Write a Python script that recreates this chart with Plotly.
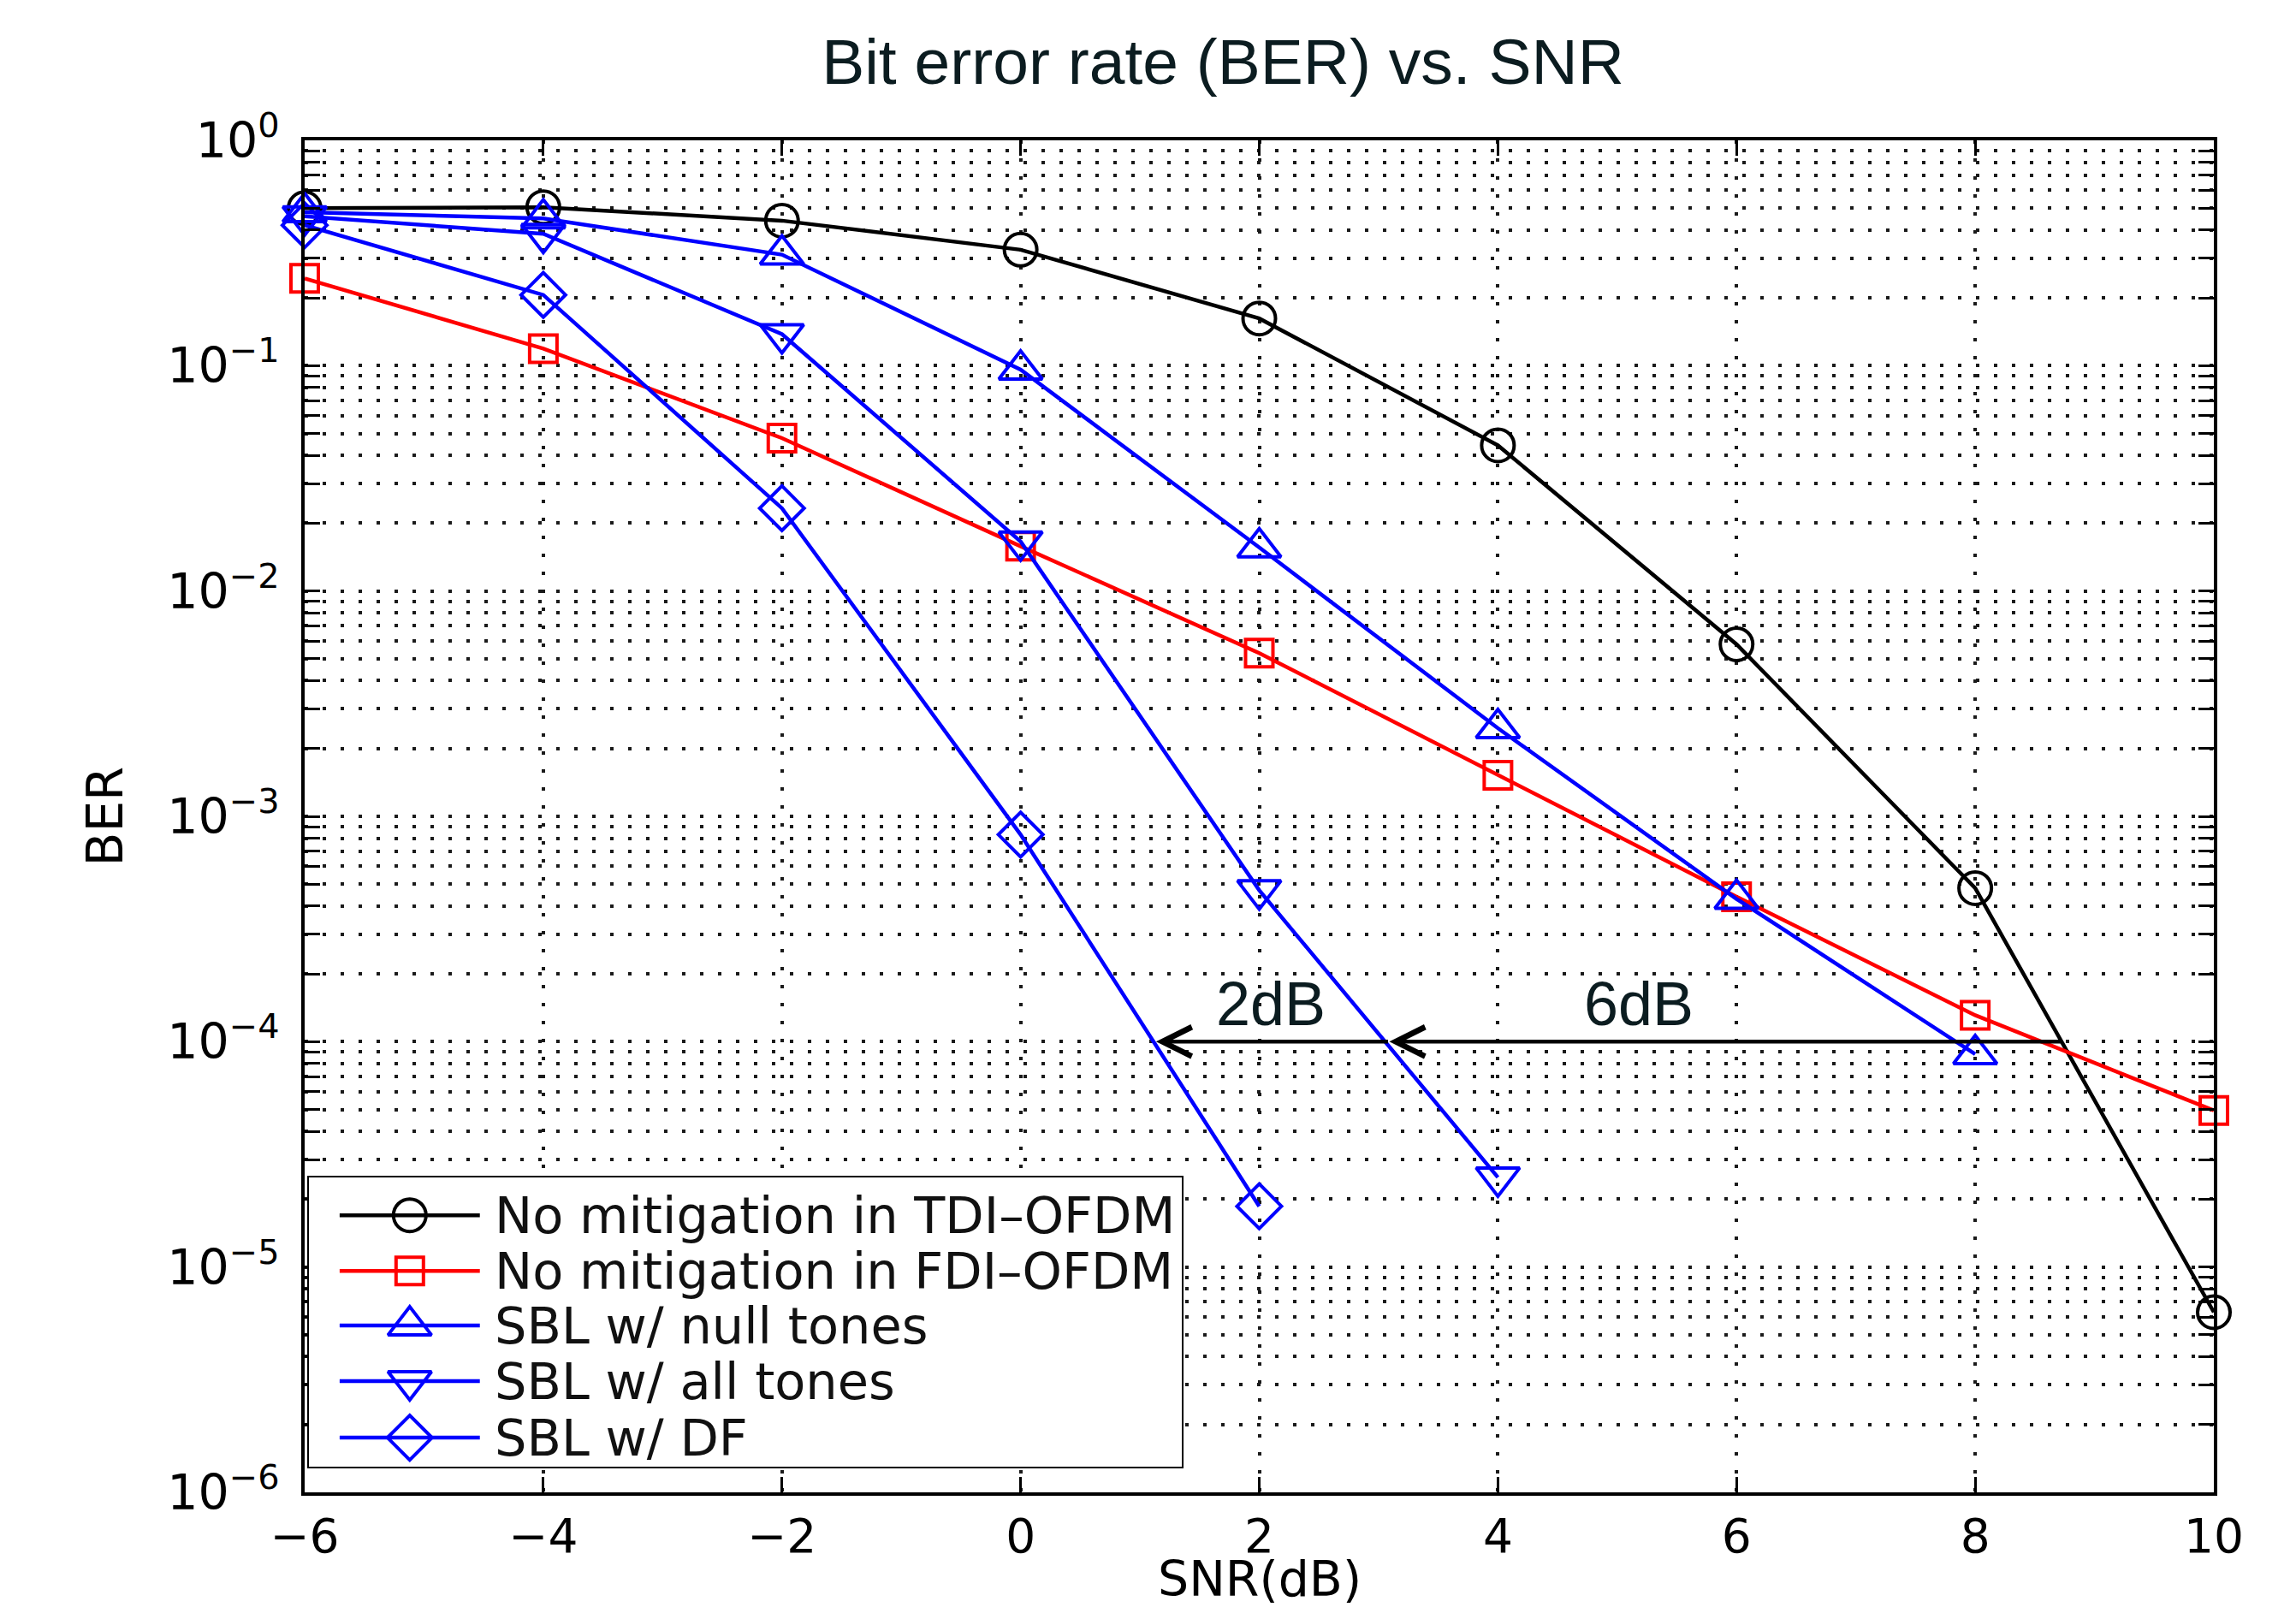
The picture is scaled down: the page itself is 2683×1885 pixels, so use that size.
import math
import plotly.graph_objects as go

# ---------------- data ----------------
snr = [-6, -4, -2, 0, 2, 4, 6, 8, 10]
ber_tdi = [0.50, 0.505, 0.44, 0.327, 0.162, 0.0443, 0.0058, 4.8e-4, 6.3e-6]
ber_fdi = [0.244, 0.119, 0.0477, 0.0158, 0.0053, 0.00152, 4.4e-4, 1.31e-4, 4.95e-5]
snr_null = [-6, -4, -2, 0, 2, 4, 6, 8]
ber_null = [0.48, 0.45, 0.311, 0.096, 0.0156, 0.00246, 4.3e-4, 8.8e-5]
snr_all = [-6, -4, -2, 0, 2, 4]
ber_all = [0.46, 0.385, 0.138, 0.0166, 4.7e-4, 2.5e-5]
snr_df = [-6, -4, -2, 0, 2]
ber_df = [0.42, 0.206, 0.0233, 8.3e-4, 1.86e-5]

series_names = ["No mitigation in TDI\u2013OFDM", "No mitigation in FDI\u2013OFDM",
                "SBL w/ null tones", "SBL w/ all tones", "SBL w/ DF"]

x_tickvals = [-6, -4, -2, 0, 2, 4, 6, 8, 10]
x_ticktext = ["\u22126", "\u22124", "\u22122", "0", "2", "4", "6", "8", "10"]
y_exponents = [-6, -5, -4, -3, -2, -1, 0]
x_title = "SNR(dB)"
y_title = "BER"

# arrow annotation (SNR gap at BER = 1e-4)
arrow_level = 1e-4
arrow_tips = [1.135, 3.09]
arrow_tails = [3.09, 8.73]
gap_labels = ["2dB", "6dB"]
gap_label_x = [2.10, 5.18]
gap_label_y = [1.47e-4, 1.47e-4]

# ---------------- styles / layout ----------------
OFF = 8                      # default page margin of the html body
SW, SH = 2683, 1885          # screen size
W, H = SW - OFF, SH - OFF
ML, MR, MT, MB = 356 - OFF, 96, 164 - OFF, 141
AXF = "DejaVu Sans"
TF = "Liberation Sans, Arial, sans-serif"
BLUE, RED, BLACK = "#0000ff", "#ff0000", "#000000"
LW = 4.5

styles = [
    dict(color=BLACK, symbol="circle-open", size=38),
    dict(color=RED, symbol="square-open", size=32),
    dict(color=BLUE, symbol="triangle-up-open", size=44),
    dict(color=BLUE, symbol="triangle-down-open", size=44),
    dict(color=BLUE, symbol="diamond-open", size=40),
]
xs = [snr, snr, snr_null, snr_all, snr_df]
ys = [ber_tdi, ber_fdi, ber_null, ber_all, ber_df]

fig = go.Figure()
for name, x, y, st in zip(series_names, xs, ys, styles):
    fig.add_trace(go.Scatter(
        x=x, y=y, name=name, mode="lines+markers", showlegend=False,
        line=dict(color=st["color"], width=LW),
        marker=dict(symbol=st["symbol"], size=st["size"], color=st["color"],
                    line=dict(width=4, color=st["color"])),
        cliponaxis=False))

# ---------------- manual MATLAB-like legend in its own axes ----------------
pw, ph = W - ML - MR, H - MT - MB
box = dict(x0=359, x1=1383, y0=1374, y1=1716)  # screen-pixel box
dom_x = [(box["x0"] - OFF - ML) / pw, (box["x1"] - OFF - ML) / pw]
dom_y = [(H - MB - (box["y1"] - OFF)) / ph, (H - MB - (box["y0"] - OFF)) / ph]
leg_rows = [0.865, 0.675, 0.488, 0.298, 0.105]
leg_line = [0.037, 0.197]
leg_mark = 0.117
leg_text = 0.212
for name, st, ry in zip(series_names, styles, leg_rows):
    fig.add_trace(go.Scatter(x=leg_line, y=[ry, ry], mode="lines", xaxis="x2", yaxis="y2",
                             line=dict(color=st["color"], width=LW), showlegend=False,
                             hoverinfo="skip"))
    fig.add_trace(go.Scatter(x=[leg_mark], y=[ry], mode="markers", xaxis="x2", yaxis="y2",
                             marker=dict(symbol=st["symbol"], size=st["size"], color=st["color"],
                                         line=dict(width=4, color=st["color"])),
                             showlegend=False, hoverinfo="skip"))
    fig.add_annotation(x=leg_text, y=ry, xref="x2", yref="y2", text=name, showarrow=False,
                       xanchor="left", yanchor="middle",
                       font=dict(family=AXF, size=59, color="#111111"))
fig.add_shape(type="rect", xref="x2", yref="y2", x0=0, x1=1, y0=0, y1=1,
              line=dict(color="black", width=4), fillcolor="white", layer="below")

# ---------------- arrows & labels ----------------
for tip, tail in zip(arrow_tips, arrow_tails):
    fig.add_annotation(x=tip, y=math.log10(arrow_level), ax=tail, ay=math.log10(arrow_level),
                       xref="x", yref="y", axref="x", ayref="y", text="", showarrow=True,
                       arrowhead=5, arrowwidth=4.5, arrowsize=1.5, arrowcolor="black",
                       standoff=0, startstandoff=0)
for t, gx, gy in zip(gap_labels, gap_label_x, gap_label_y):
    fig.add_annotation(x=gx, y=math.log10(gy), xref="x", yref="y", text=t, showarrow=False,
                       xanchor="center", yanchor="middle",
                       font=dict(family=TF, size=72, color="#0b1c20"))

# x-axis title placed as an annotation just below the tick labels
fig.add_annotation(x=0.5, y=-(1845 - OFF - (H - MB)) / ph, xref="paper", yref="paper",
                   text=x_title, showarrow=False, xanchor="center", yanchor="middle",
                   font=dict(family=AXF, size=57, color="black"))

# ---------------- axes ----------------
grid_dash = "4px,17px"
grid_col = "#1a1a1a"
y_tickvals = [10.0 ** e for e in y_exponents]
y_ticktext = ["10<sup>%s</sup>" % (str(e).replace("-", "\u2212")) for e in y_exponents]
y_minor = [m * 10.0 ** e for e in y_exponents[:-1] for m in range(2, 10)]

fig.update_layout(
    width=W, height=H, margin=dict(l=ML, r=MR, t=MT, b=MB, autoexpand=False),
    paper_bgcolor="white", plot_bgcolor="white", showlegend=False,
    title=dict(text="Bit error rate (BER) vs. SNR", x=(1429 - OFF) / W, xanchor="center",
               y=1 - (72 - OFF) / H, yanchor="middle", xref="container", yref="container",
               font=dict(family=TF, size=75, color="#0b1c20")),
    xaxis=dict(range=[-6, 10], tickmode="array", tickvals=x_tickvals, ticktext=x_ticktext,
               showline=True, linecolor="black", linewidth=4, mirror="ticks",
               ticks="inside", ticklen=18, tickwidth=2.5, tickcolor="black",
               showgrid=True, gridcolor=grid_col, gridwidth=4, griddash=grid_dash,
               zeroline=False, ticklabelstandoff=0,
               tickfont=dict(family=AXF, size=55, color="black")),
    yaxis=dict(type="log", range=[-6, 0], tickmode="array", tickvals=y_tickvals,
               ticktext=y_ticktext,
               showline=True, linecolor="black", linewidth=4, mirror="ticks",
               ticks="inside", ticklen=18, tickwidth=2.5, tickcolor="black",
               showgrid=True, gridcolor=grid_col, gridwidth=4, griddash=grid_dash,
               zeroline=False, ticklabelstandoff=14,
               tickfont=dict(family=AXF, size=57, color="black"),
               minor=dict(tickmode="array", tickvals=y_minor, ticks="inside", ticklen=18,
                          tickwidth=2.5, tickcolor="black", showgrid=True,
                          gridcolor=grid_col, gridwidth=4, griddash=grid_dash),
               title=dict(text=y_title, font=dict(family=AXF, size=58, color="black"),
                          standoff=34)),
    xaxis2=dict(domain=dom_x, range=[0, 1], visible=False, anchor="y2", fixedrange=True),
    yaxis2=dict(domain=dom_y, range=[0, 1], visible=False, anchor="x2", fixedrange=True),
)

fig.write_html("out.html")
